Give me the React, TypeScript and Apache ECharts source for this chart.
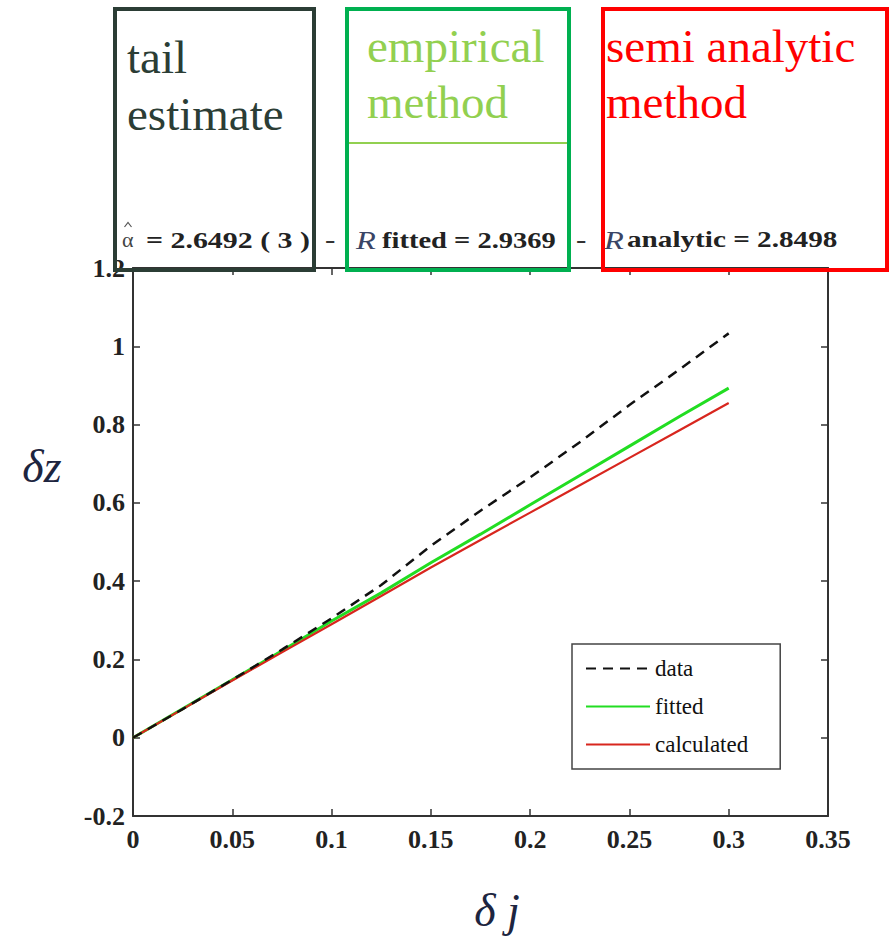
import React, { useEffect, useRef } from "react";
import * as echarts from "echarts";

const xValues = [0, 0.025, 0.05, 0.075, 0.1, 0.125, 0.15, 0.175, 0.2, 0.225, 0.25, 0.275, 0.3];
const dataValues = [0, 0.073, 0.148, 0.225, 0.305, 0.39, 0.49, 0.58, 0.665, 0.755, 0.85, 0.94, 1.033];
const fittedValues = [0, 0.074, 0.148, 0.222, 0.298, 0.37, 0.447, 0.52, 0.595, 0.67, 0.745, 0.82, 0.893];
const calculatedValues = [0, 0.073, 0.146, 0.218, 0.29, 0.362, 0.435, 0.505, 0.575, 0.645, 0.715, 0.785, 0.855];
const seriesNames = ["data", "fitted", "calculated"];
const boxTitles = [["tail", "estimate"], ["empirical", "method"], ["semi analytic", "method"]];
const formulaParts = ["= 2.6492 ( 3 )", "fitted = 2.9369", "analytic = 2.8498"];

const SERIF = "'Liberation Serif', 'Times New Roman', serif";

function pairs(vals: number[]) {
  return xValues.map((x, i) => [x, vals[i]]);
}

export default function App() {
  const ref = useRef<HTMLDivElement>(null);
  useEffect(() => {
    if (!ref.current) return;
    const chart = echarts.init(ref.current, null, { renderer: "svg" });
    const axisColor = "#333";
    const tickLabel = {
      fontFamily: SERIF,
      fontSize: 26,
      fontWeight: "bold" as const,
      color: "#222",
    };
    const fmt = (v: number) => String(parseFloat(v.toFixed(2)));
    const titleFont = `47px ${SERIF}`;
    const formulaFont = `bold 23px ${SERIF}`;
    const rFont = `italic 25px ${SERIF}`;
    const fy = 240;
    const formulaText = (x: number, text: string, font: string, fill: string, sx = 1.3) => ({
      type: "text",
      x,
      y: fy,
      scaleX: sx,
      z: 60,
      style: { text, font, fill, textAlign: "left", textVerticalAlign: "middle" },
    });
    const title = (x: number, y: number, text: string, fill: string) => ({
      type: "text",
      x,
      y,
      z: 100,
      style: { text, font: titleFont, fill, textAlign: "left", textVerticalAlign: "bottom" },
    });
    chart.setOption({
      animation: false,
      backgroundColor: "#fff",
      grid: { left: 133, right: 62, top: 268, bottom: 123 },
      xAxis: [
        {
          type: "value",
          min: 0,
          max: 0.35,
          interval: 0.05,
          position: "bottom",
          axisLine: { show: true, onZero: false, lineStyle: { color: axisColor, width: 2 } },
          axisTick: { show: true, inside: true, length: 7, lineStyle: { color: axisColor, width: 1.5 } },
          axisLabel: { ...tickLabel, margin: 10, formatter: fmt },
          splitLine: { show: false },
        },
        {
          type: "value",
          min: 0,
          max: 0.35,
          interval: 0.05,
          position: "top",
          axisLine: { show: true, onZero: false, lineStyle: { color: axisColor, width: 2 } },
          axisTick: { show: true, inside: true, length: 7, lineStyle: { color: axisColor, width: 1.5 } },
          axisLabel: { show: false },
          splitLine: { show: false },
        },
      ],
      yAxis: [
        {
          type: "value",
          min: -0.2,
          max: 1.2,
          interval: 0.2,
          position: "left",
          axisLine: { show: true, onZero: false, lineStyle: { color: axisColor, width: 2 } },
          axisTick: { show: true, inside: true, length: 7, lineStyle: { color: axisColor, width: 1.5 } },
          axisLabel: { ...tickLabel, margin: 8, formatter: fmt },
          splitLine: { show: false },
        },
        {
          type: "value",
          min: -0.2,
          max: 1.2,
          interval: 0.2,
          position: "right",
          axisLine: { show: true, onZero: false, lineStyle: { color: axisColor, width: 2 } },
          axisTick: { show: true, inside: true, length: 7, lineStyle: { color: axisColor, width: 1.5 } },
          axisLabel: { show: false },
          splitLine: { show: false },
        },
      ],
      legend: {
        orient: "vertical",
        left: 572,
        top: 644,
        data: seriesNames,
        backgroundColor: "#fff",
        borderColor: "#444",
        borderWidth: 1.5,
        borderRadius: 0,
        padding: [13, 32, 13, 13],
        itemWidth: 64,
        itemHeight: 22,
        itemGap: 15,
        itemStyle: { opacity: 0, borderWidth: 0 },
        textStyle: { fontFamily: SERIF, fontSize: 23, color: "#111", lineHeight: 22 },
      },
      series: [
        {
          name: seriesNames[0],
          type: "line",
          data: pairs(dataValues),
          symbol: "none",
          lineStyle: { color: "#111", width: 2.5, type: [10, 7] },
          itemStyle: { color: "#111" },
          z: 3,
        },
        {
          name: seriesNames[1],
          type: "line",
          data: pairs(fittedValues),
          symbol: "none",
          lineStyle: { color: "#22dd22", width: 3 },
          itemStyle: { color: "#22dd22" },
          z: 2,
        },
        {
          name: seriesNames[2],
          type: "line",
          data: pairs(calculatedValues),
          symbol: "none",
          lineStyle: { color: "#d8261e", width: 2.2 },
          itemStyle: { color: "#b04545" },
          z: 2,
        },
      ],
      graphic: [
        {
          type: "text",
          x: 42,
          y: 466,
          z: 50,
          style: {
            text: "δz",
            font: `italic 46px ${SERIF}`,
            fill: "#1d2540",
            textAlign: "center",
            textVerticalAlign: "middle",
          },
        },
        {
          type: "text",
          x: 497,
          y: 910,
          z: 50,
          style: {
            text: "δ j",
            font: `italic 46px ${SERIF}`,
            fill: "#1d2540",
            textAlign: "center",
            textVerticalAlign: "middle",
          },
        },
        formulaText(122, "α", `20px ${SERIF}`, "#444", 1.1),
        {
          type: "polyline",
          z: 60,
          shape: { points: [[124.5, 227], [128, 222.5], [131.5, 227]] },
          style: { stroke: "#555", lineWidth: 1.2, fill: "none" },
        },
        formulaText(146, formulaParts[0], formulaFont, "#222"),
        formulaText(325, "-", `bold 24px ${SERIF}`, "#333"),
        formulaText(356, "R", rFont, "#3a4566"),
        formulaText(382, formulaParts[1], formulaFont, "#222", 1.24),
        formulaText(576, "-", `bold 24px ${SERIF}`, "#333"),
        formulaText(604, "R", rFont, "#3a4566"),
        formulaText(627, formulaParts[2], formulaFont, "#222", 1.27),
        {
          type: "rect",
          z: 100,
          shape: { x: 115, y: 9, width: 199, height: 261 },
          style: { fill: "none", stroke: "#2b3d35", lineWidth: 4 },
        },
        {
          type: "rect",
          z: 100,
          shape: { x: 347, y: 9, width: 222, height: 261 },
          style: { fill: "none", stroke: "#00b050", lineWidth: 4 },
        },
        {
          type: "line",
          z: 100,
          shape: { x1: 349, y1: 143, x2: 567, y2: 143 },
          style: { stroke: "#92d050", lineWidth: 2 },
        },
        {
          type: "rect",
          z: 100,
          shape: { x: 603, y: 9, width: 284, height: 261 },
          style: { fill: "none", stroke: "#ff0000", lineWidth: 4 },
        },
        title(127, 80, boxTitles[0][0], "#2b3d35"),
        title(127, 137, boxTitles[0][1], "#2b3d35"),
        title(367, 69, boxTitles[1][0], "#92d050"),
        title(367, 125, boxTitles[1][1], "#92d050"),
        title(606, 69, boxTitles[2][0], "#ff0000"),
        title(606, 125, boxTitles[2][1], "#ff0000"),
      ],
    });
    return () => chart.dispose();
  }, []);
  return (
    <div
      ref={ref}
      style={{ position: "absolute", left: 0, top: 0, width: 890, height: 939, background: "#fff" }}
    />
  );
}
